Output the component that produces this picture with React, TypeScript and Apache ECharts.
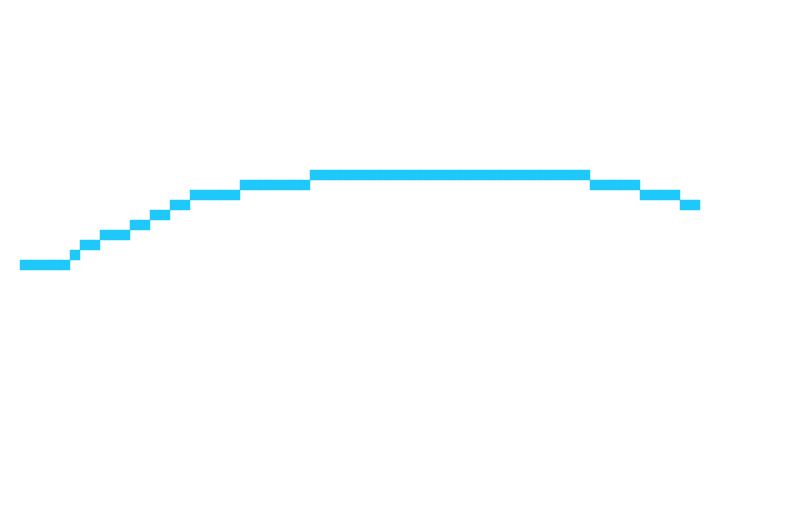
import React, { useEffect, useRef } from "react";
import * as echarts from "echarts";

// one level per 10px column left to right
const levels = [
  25, 25, 25, 25, 25, 26, 27, 27, 28, 28, 28, 29, 29, 30, 30, 31, 31,
  32, 32, 32, 32, 32, 33, 33, 33, 33, 33, 33, 33,
  34, 34, 34, 34, 34, 34, 34, 34, 34, 34, 34, 34, 34, 34,
  34, 34, 34, 34, 34, 34, 34, 34, 34, 34, 34, 34, 34, 34,
  33, 33, 33, 33, 33, 32, 32, 32, 32, 31, 31,
];
const rowCount = 52;
const columns = levels.map((_, i) => String(i));
const rows = Array.from({ length: rowCount }, (_, i) => String(i));

const App = () => {
  const chartRef = useRef(null);

  useEffect(() => {
    const chart = echarts.init(chartRef.current, null, { renderer: "svg" });

    chart.setOption({
      animation: false,
      backgroundColor: "#ffffff",
      grid: { left: 20, top: 0, width: 680, height: 520 },
      xAxis: { type: "category", data: columns, show: false },
      yAxis: { type: "category", data: rows, show: false },
      visualMap: {
        show: false,
        min: 0,
        max: 1,
        inRange: { color: ["#1ec8fb", "#1ec8fb"] },
      },
      series: [
        {
          type: "heatmap",
          data: levels.map((v, i) => [i, v, 1]),
          itemStyle: { borderWidth: 0 },
          emphasis: { disabled: true },
        },
      ],
    });

    return () => chart.dispose();
  }, []);

  return (
    <div
      ref={chartRef}
      style={{ position: "fixed", left: 0, top: 0, width: 810, height: 520 }}
    />
  );
};

export default App;
